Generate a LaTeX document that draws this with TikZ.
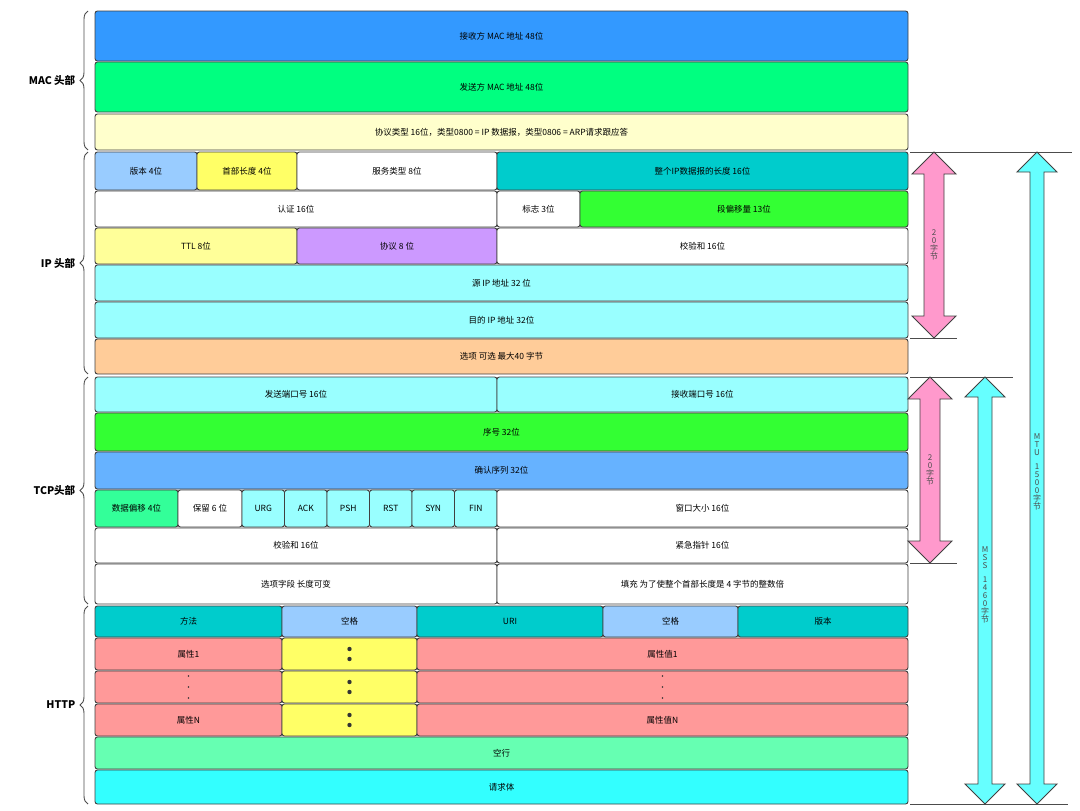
\documentclass[tikz,border=0pt]{standalone}
\usepackage{fontspec}
\setmainfont{Noto Sans CJK SC}
\usetikzlibrary{decorations.pathreplacing}
\definecolor{macBlue}{HTML}{3399FF}
\definecolor{macGreen}{HTML}{00FF80}
\definecolor{paleYellow}{HTML}{FFFFCC}
\definecolor{lightBlue}{HTML}{99CCFF}
\definecolor{fieldYellow}{HTML}{FFFF66}
\definecolor{tealField}{HTML}{00CCCC}
\definecolor{limeField}{HTML}{33FF33}
\definecolor{ttlYellow}{HTML}{FFFF99}
\definecolor{protoPurple}{HTML}{CC99FF}
\definecolor{cyanField}{HTML}{99FFFF}
\definecolor{optOrange}{HTML}{FFCC99}
\definecolor{ackBlue}{HTML}{66B2FF}
\definecolor{offGreen}{HTML}{33FF99}
\definecolor{attrPink}{HTML}{FF9999}
\definecolor{blankGreen}{HTML}{66FFB2}
\definecolor{bodyCyan}{HTML}{33FFFF}
\definecolor{arrowPink}{HTML}{FF99CC}
\definecolor{arrowCyan}{HTML}{66FFFF}

% one header field: x1 y1 x2 y2 colour text name
\newcommand{\fld}[7]{%
  \draw[fieldbox,fill=#5] (#1,#2) rectangle (#3,#4);
  \node[fieldtext] (#7) at ({(#1+#3)/2},{(#2+#4)/2}) {#6};}
% double arrow: x y1 y2 shaft head colour
\newcommand{\dblarrow}[6]{%
  \draw[arrowline,fill=#6] (#1-#4,#2+#5) -- (#1-#5,#2+#5) -- (#1,#2) -- (#1+#5,#2+#5)
    -- (#1+#4,#2+#5) -- (#1+#4,#3-#5) -- (#1+#5,#3-#5) -- (#1,#3) -- (#1-#5,#3-#5)
    -- (#1-#4,#3-#5) -- cycle;}

\tikzset{
  fieldbox/.style={draw=black!75,line width=0.9pt,rounded corners=2.5pt},
  fieldtext/.style={font=\fontsize{8.5}{9}\selectfont,inner sep=0pt},
  arrowline/.style={draw=black!75,line width=0.9pt},
  vtext/.style={font=\fontsize{8}{8}\selectfont,align=center,inner sep=0pt,text=black!70},
  layername/.style={font=\fontsize{10.5}{12}\selectfont\bfseries,anchor=east},
  brace/.style={decorate,decoration={brace,amplitude=8pt,mirror},line width=0.9pt,draw=black!70},
  edge/.style={line width=0.9pt,draw=black!70},
  bigdot/.style={fill=black!80,radius=2.2pt},
  tinydot/.style={fill=black!80,radius=0.8pt}
}

\begin{document}
\begin{tikzpicture}[x=1pt,y=-1pt]
\useasboundingbox (0,0) rectangle (1080,811);
% MAC
\fld{95}{11}{908}{61}{macBlue}{接收方 MAC 地址 48位}{macdst}
\fld{95}{62}{908}{112}{macGreen}{发送方 MAC 地址 48位}{macsrc}
\fld{95}{114}{908}{150}{paleYellow}{协议类型 16位，类型0800 = IP 数据报，类型0806 = ARP请求跟应答}{mactype}
% IP
\fld{95}{152}{197}{190}{lightBlue}{版本 4位}{ipver}
\fld{197}{152}{297}{190}{fieldYellow}{首部长度 4位}{iphl}
\fld{297}{152}{497}{190}{white}{服务类型 8位}{iptos}
\fld{497}{152}{908}{190}{tealField}{整个IP数据报的长度\ 16位}{iplen}
\fld{95}{191}{497}{227}{white}{认证 16位}{ipid}
\fld{497}{191}{580}{227}{white}{标志 3位}{ipflag}
\fld{580}{191}{908}{227}{limeField}{段偏移量 13位}{ipoff}
\fld{95}{228}{297}{264}{ttlYellow}{TTL 8位}{ipttl}
\fld{297}{228}{497}{264}{protoPurple}{协议 8 位}{ipproto}
\fld{497}{228}{908}{264}{white}{校验和 16位}{ipsum}
\fld{95}{265}{908}{301}{cyanField}{源 IP 地址 32 位}{ipsrc}
\fld{95}{302}{908}{338}{cyanField}{目的 IP 地址 32位}{ipdst}
\fld{95}{339}{908}{374}{optOrange}{选项 可选 最大40 字节}{ipopt}
% TCP
\fld{95}{377}{497}{412}{cyanField}{发送端口号\ 16位}{tcpsrc}
\fld{497}{377}{908}{412}{cyanField}{接收端口号\ 16位}{tcpdst}
\fld{95}{413}{908}{451}{limeField}{序号\ 32位}{tcpseq}
\fld{95}{452}{908}{489}{ackBlue}{确认序列\ 32位}{tcpack}
\fld{95}{490}{178}{527}{offGreen}{数据偏移 4位}{tcpoff}
\fld{178}{490}{242}{527}{white}{保留 6 位}{tcpres}
\foreach \flag [count=\i from 0] in {URG,ACK,PSH,RST,SYN,FIN}
  {\fld{242+42.5*\i}{490}{284.5+42.5*\i}{527}{cyanField}{\flag}{tcp\flag}}
\fld{497}{490}{908}{527}{white}{窗口大小 16位}{tcpwin}
\fld{95}{528}{497}{563}{white}{校验和 16位}{tcpsum}
\fld{497}{528}{908}{563}{white}{紧急指针 16位}{tcpurg}
\fld{95}{564}{497}{604}{white}{选项字段 长度可变}{tcpopt}
\fld{497}{564}{908}{604}{white}{填充 为了使整个首部长度是 4 字节的整数倍}{tcppad}
% HTTP
\fld{95}{606}{282}{637}{tealField}{方法}{hmethod}
\fld{282}{606}{417}{637}{lightBlue}{空格}{hsp1}
\fld{417}{606}{603}{637}{tealField}{URI}{huri}
\fld{603}{606}{738}{637}{lightBlue}{空格}{hsp2}
\fld{738}{606}{908}{637}{tealField}{版本}{hver}
\fld{95}{638}{282}{670}{attrPink}{属性1}{hkeya}
\fld{282}{638}{417}{670}{fieldYellow}{}{hcola}
\fld{417}{638}{908}{670}{attrPink}{属性值1}{hvala}
\fld{95}{671}{282}{703}{attrPink}{}{hkeyb}
\fld{282}{671}{417}{703}{fieldYellow}{}{hcolb}
\fld{417}{671}{908}{703}{attrPink}{}{hvalb}
\fld{95}{704}{282}{736}{attrPink}{属性N}{hkeyc}
\fld{282}{704}{417}{736}{fieldYellow}{}{hcolc}
\fld{417}{704}{908}{736}{attrPink}{属性值N}{hvalc}
\fld{95}{737}{908}{769}{blankGreen}{空行}{hblank}
\fld{95}{770}{908}{804}{bodyCyan}{请求体}{hbody}
% dots
\foreach \cell in {hcola,hcolb,hcolc}
  {\fill[bigdot] ([yshift=-5pt]\cell) circle; \fill[bigdot] ([yshift=5pt]\cell) circle;}
\foreach \cell in {hkeyb,hvalb}
  {\foreach \dy in {-11,0,11} \fill[tinydot] ([yshift=\dy pt]\cell) circle;}

% layer braces
\draw[brace] (88,11) -- (88,150) node[midway,xshift=-9pt,layername] (labmac) {MAC 头部};
\draw[brace] (88,152) -- (88,374) node[midway,xshift=-9pt,layername] (labip) {IP 头部};
\draw[brace] (88,377) -- (88,604) node[midway,xshift=-9pt,layername] (labtcp) {TCP头部};
\draw[brace] (88,606) -- (88,804) node[midway,xshift=-9pt,layername] (labhttp) {HTTP};

% size marks
\draw[edge] (910,152) -- (1072,152);
\draw[edge] (910,338) -- (957,338);
\draw[edge] (910,377) -- (1013,377);
\draw[edge] (910,563) -- (957,563);
\draw[edge] (910,804) -- (1068,804);
\dblarrow{934}{152}{338}{10}{22}{arrowPink}
\dblarrow{930}{377}{563}{10}{22}{arrowPink}
\dblarrow{985}{377}{804}{7}{20}{arrowCyan}
\dblarrow{1037}{152}{804}{7}{20}{arrowCyan}
\node[vtext] (ipsize) at (934,245) {2\\0\\字\\节};
\node[vtext] (tcpsize) at (930,470) {2\\0\\字\\节};
\node[vtext] (mss) at (985,585) {M\\S\\S\\[6pt]1\\4\\6\\0\\字\\节};
\node[vtext] (mtu) at (1037,472) {M\\T\\U\\[6pt]1\\5\\0\\0\\字\\节};
\end{tikzpicture}
\end{document}
